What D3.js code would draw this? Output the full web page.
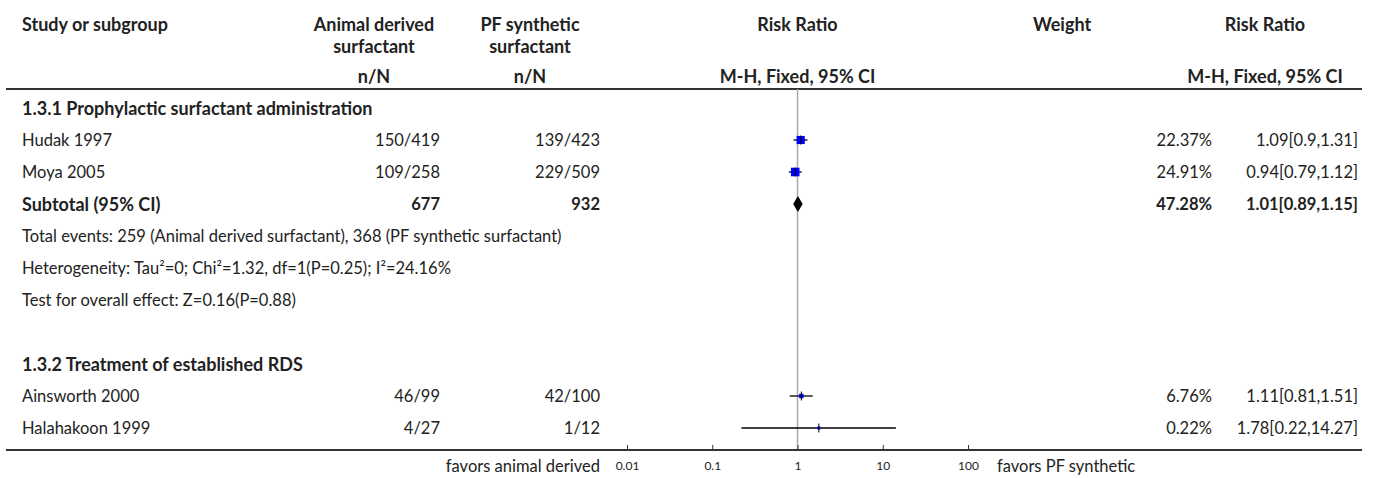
<!DOCTYPE html>
<html>
<head>
<meta charset="utf-8">
<script src="https://cdn.jsdelivr.net/npm/d3@7"></script>
<style>
  body { margin: 0; background: #fff; }
  text { font-family: "Source Sans Pro", Lato, "Noto Sans", sans-serif; font-size: 16.5px; fill: #222; }
  .b { font-weight: bold; font-size: 18px; }
  .bs { font-weight: bold; }
</style>
</head>
<body>
<svg class="svg1"></svg>
<script>
// data
const studies = ['Hudak 1997', 'Moya 2005', 'Ainsworth 2000', 'Halahakoon 1999'];
const studyRow = [1, 2, 9, 10];
const animalEvents = [150, 109, 46, 4];
const animalTotal = [419, 258, 99, 27];
const pfEvents = [139, 229, 42, 1];
const pfTotal = [423, 509, 100, 12];
const rr = [1.09, 0.94, 1.11, 1.78];
const rrLow = [0.9, 0.79, 0.81, 0.22];
const rrHigh = [1.31, 1.12, 1.51, 14.27];
const weights = ['22.37%', '24.91%', '6.76%', '0.22%'];
const weightVals = [22.37, 24.91, 6.76, 0.22];

const groupTitles = ['1.3.1 Prophylactic surfactant administration', '1.3.2 Treatment of established RDS'];
const groupRow = [0, 8];

const subtotal = {row: 3, animal: 677, pf: 932, rr: 1.01, lo: 0.89, hi: 1.15, weight: '47.28%'};
const statLines = [
  'Total events: 259 (Animal derived surfactant), 368 (PF synthetic surfactant)',
  'Heterogeneity: Tau\u00B2=0; Chi\u00B2=1.32, df=1(P=0.25); I\u00B2=24.16%',
  'Test for overall effect: Z=0.16(P=0.88)'
];
const statRow = [4, 5, 6];

const ticks = [0.01, 0.1, 1, 10, 100];
const tickLabels = ['0.01', '0.1', '1', '10', '100'];

const width = 1375, height = 478;
const svg = d3.select('.svg1').attr('width', width).attr('height', height);

const x = d3.scaleLog().domain([0.01, 100]).range([627, 968]);
const y = d3.scaleLinear().domain([0, 10]).range([108, 428]);
const sq = d3.scaleSqrt().domain([0, 25]).range([0, 8.6]);

const colStudy = 22, colAnimal = 440, colPf = 600, colWeight = 1212, colRR = 1358;
const lineTop = 89, lineBottom = 450, lineL = 6, lineR = 1362;
const base = 6;

// header
const hdr = svg.append('g');
function head(t, x0, y0, anchor) {
  hdr.append('text').attr('class', 'b').attr('x', x0).attr('y', y0).attr('text-anchor', anchor || 'middle').text(t);
}
head('Study or subgroup', colStudy, 31, 'start');
head('Animal derived', 374, 31); head('surfactant', 374, 53); head('n/N', 374, 83);
head('PF synthetic', 530, 31); head('surfactant', 530, 53); head('n/N', 530, 83);
head('Risk Ratio', x(1), 31); head('M-H, Fixed, 95% CI', x(1), 83);
head('Weight', 1062, 31);
head('Risk Ratio', 1265, 31); head('M-H, Fixed, 95% CI', 1265, 83);

svg.append('line').attr('x1', lineL).attr('x2', lineR).attr('y1', lineTop).attr('y2', lineTop)
  .attr('stroke', '#333').attr('stroke-width', 2);

// null line
svg.append('line').attr('x1', x(1)).attr('x2', x(1)).attr('y1', lineTop).attr('y2', lineBottom)
  .attr('stroke', '#aaa').attr('stroke-width', 1.5);

// group titles
groupTitles.forEach((t, i) => {
  svg.append('text').attr('class', 'b').attr('x', colStudy).attr('y', y(groupRow[i]) + 6.5).text(t);
});

// studies
studies.forEach((s, i) => {
  const cy = y(studyRow[i]);
  svg.append('text').attr('x', colStudy).attr('y', cy + base).text(s);
  svg.append('text').attr('x', colAnimal).attr('y', cy + base).attr('text-anchor', 'end').text(animalEvents[i] + '/' + animalTotal[i]);
  svg.append('text').attr('x', colPf).attr('y', cy + base).attr('text-anchor', 'end').text(pfEvents[i] + '/' + pfTotal[i]);
  svg.append('text').attr('x', colWeight).attr('y', cy + base).attr('text-anchor', 'end').text(weights[i]);
  svg.append('text').attr('x', colRR).attr('y', cy + base).attr('text-anchor', 'end')
    .text(rr[i] + '[' + rrLow[i] + ',' + rrHigh[i] + ']');

  svg.append('line').attr('x1', x(rrLow[i])).attr('x2', x(rrHigh[i])).attr('y1', cy).attr('y2', cy)
    .attr('stroke', '#000').attr('stroke-width', 1.3);
  const s2 = Math.max(3, sq(weightVals[i]));
  svg.append('rect').attr('x', x(rr[i]) - s2 / 2).attr('y', cy - s2 / 2)
    .attr('width', s2).attr('height', s2).attr('fill', '#0000ff');
  svg.append('line').attr('x1', x(rr[i])).attr('x2', x(rr[i])).attr('y1', cy - 4.5).attr('y2', cy + 4.5)
    .attr('stroke', '#000').attr('stroke-width', 1);
});

// subtotal
const sy = y(subtotal.row);
svg.append('text').attr('class', 'b').attr('x', colStudy).attr('y', sy + 6.5).text('Subtotal (95% CI)');
svg.append('text').attr('class', 'bs').attr('x', colAnimal).attr('y', sy + base).attr('text-anchor', 'end').text(subtotal.animal);
svg.append('text').attr('class', 'bs').attr('x', colPf).attr('y', sy + base).attr('text-anchor', 'end').text(subtotal.pf);
svg.append('text').attr('class', 'bs').attr('x', colWeight).attr('y', sy + base).attr('text-anchor', 'end').text(subtotal.weight);
svg.append('text').attr('class', 'bs').attr('x', colRR).attr('y', sy + base).attr('text-anchor', 'end')
  .text(subtotal.rr.toFixed(2) + '[' + subtotal.lo + ',' + subtotal.hi + ']');
svg.append('path')
  .attr('d', `M${x(subtotal.lo)},${sy} L${x(subtotal.rr)},${sy - 8} L${x(subtotal.hi)},${sy} L${x(subtotal.rr)},${sy + 8} Z`)
  .attr('fill', '#000');

// stats
statLines.forEach((t, i) => {
  svg.append('text').attr('x', colStudy).attr('y', y(statRow[i]) + base).text(t);
});

// bottom axis
svg.append('line').attr('x1', lineL).attr('x2', lineR).attr('y1', lineBottom).attr('y2', lineBottom)
  .attr('stroke', '#333').attr('stroke-width', 2);
const axis = d3.axisTop(x).tickValues(ticks).tickFormat((d, i) => tickLabels[i]).tickSize(5).tickSizeOuter(0);
const ag = svg.append('g').attr('transform', `translate(0,${lineBottom})`).call(axis);
ag.select('.domain').remove();
ag.selectAll('.tick line').attr('stroke', '#333');
ag.selectAll('.tick text').attr('y', 20).attr('dy', 0).style('font-size', '12px').attr('fill', '#222');

svg.append('text').attr('x', 600).attr('y', 472).attr('text-anchor', 'end').text('favors animal derived');
svg.append('text').attr('x', 997).attr('y', 472).text('favors PF synthetic');
</script>
</body>
</html>
